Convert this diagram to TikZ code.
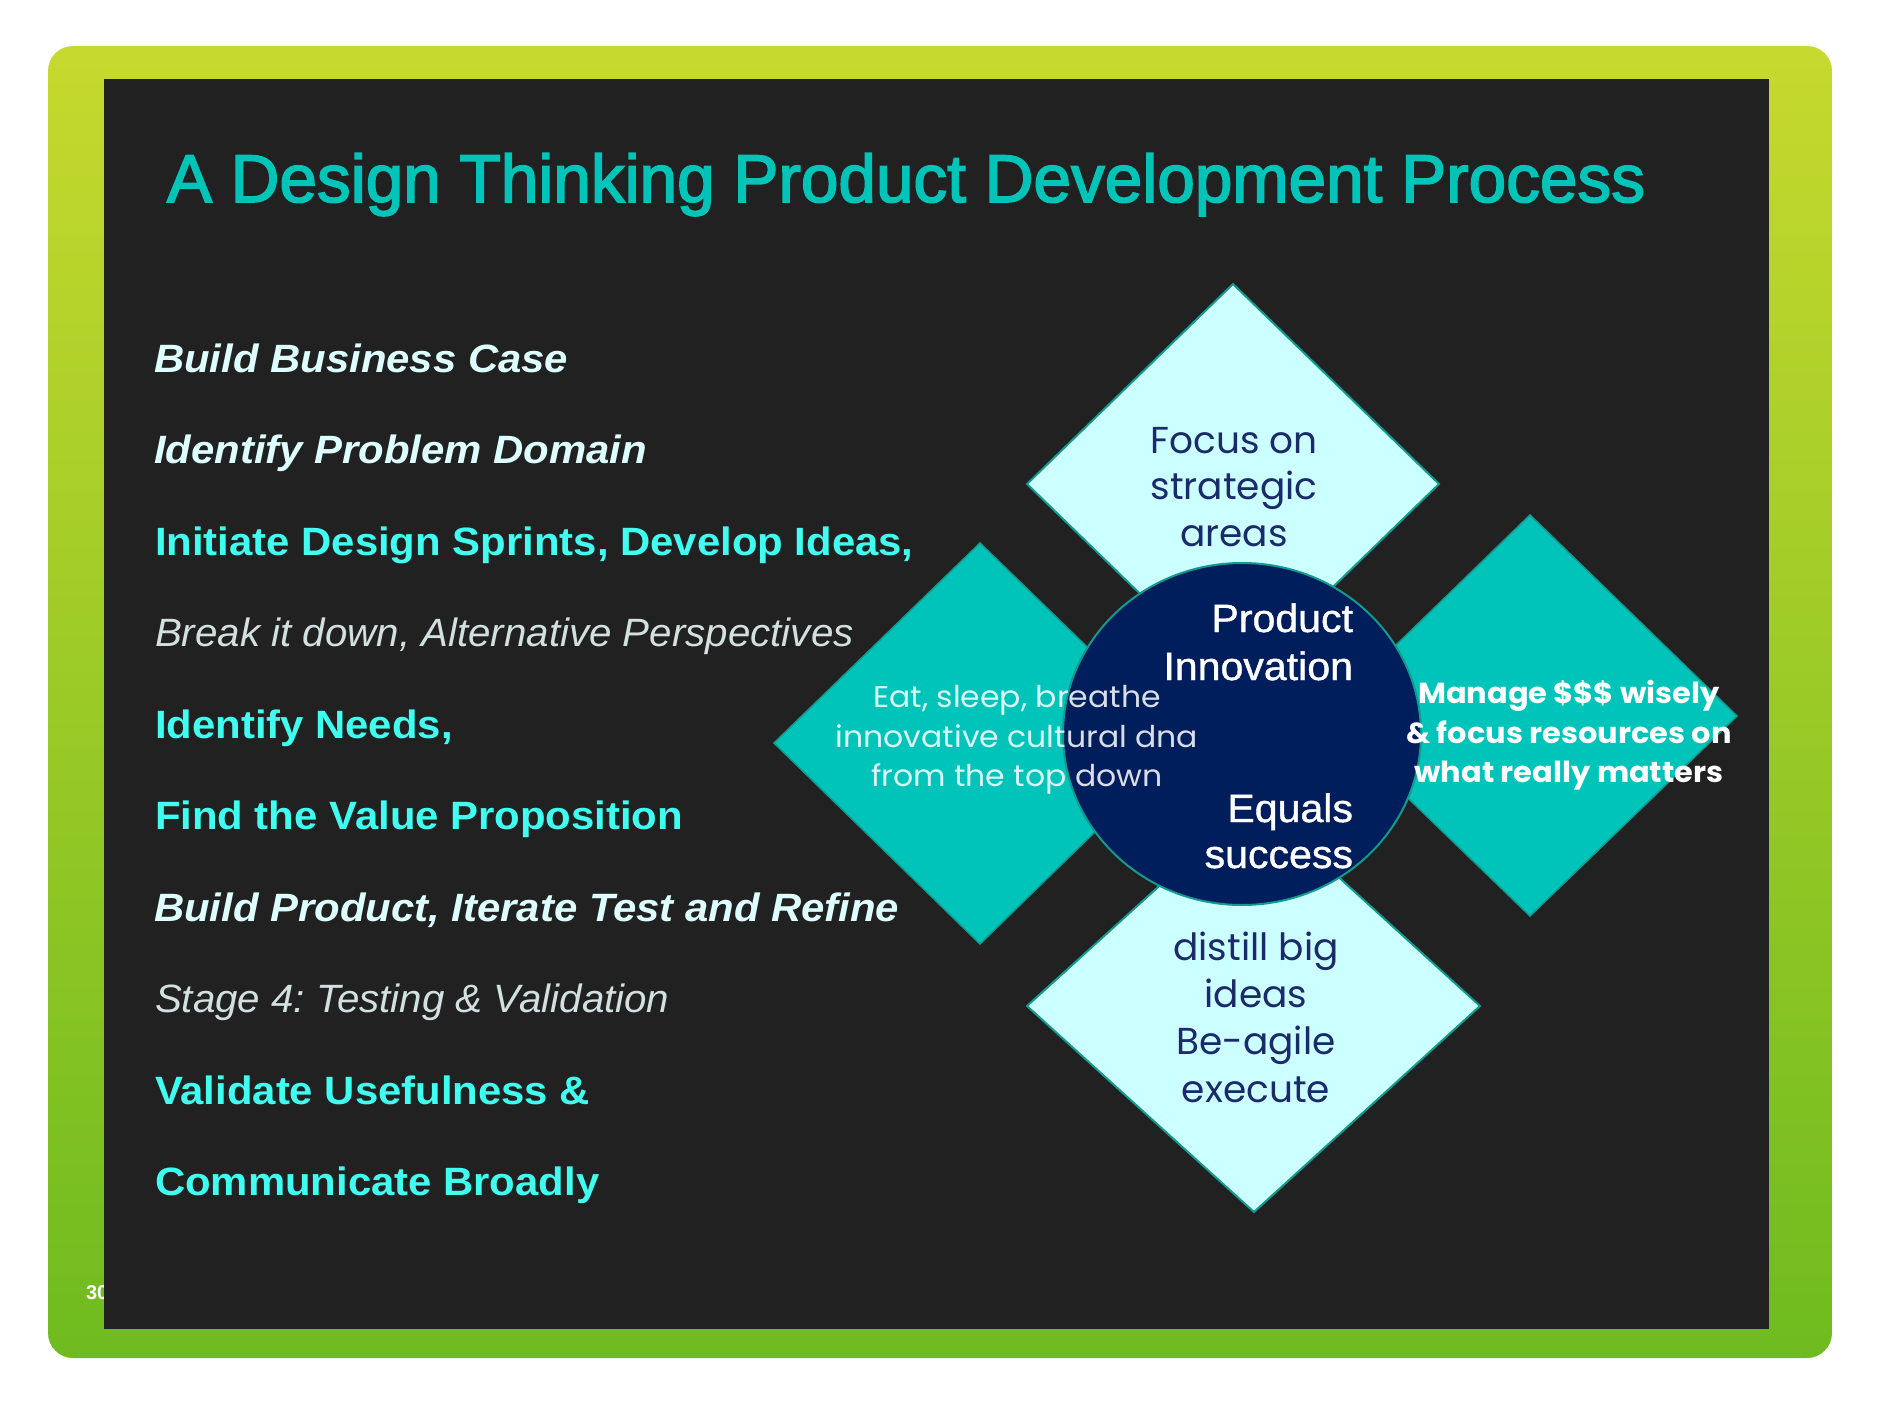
\documentclass[tikz,border=0pt]{standalone}
\usepackage{fontspec}
\setmainfont{Liberation Sans}
\newfontfamily\titlefont[FakeBold=2.4]{Liberation Sans}
\newfontfamily\listfont[FakeStretch=1.06]{Liberation Sans}
\newfontfamily\lightfont[FakeStretch=1.02]{Liberation Sans}
\newfontfamily\ctrfont[FakeStretch=1.04,FakeBold=1]{Liberation Sans}
\newfontfamily\geofont{Poppins}
\newfontfamily\geowide[FakeStretch=1.05]{Poppins}
\definecolor{gtop}{HTML}{C6D92E}
\definecolor{gbot}{HTML}{6FBB1F}
\definecolor{slide}{HTML}{212121}
\definecolor{titlecol}{HTML}{00C4B8}
\definecolor{cyantext}{HTML}{40FFF0}
\definecolor{paletext}{HTML}{DDFFFF}
\definecolor{greytext}{HTML}{D2E0E0}
\definecolor{lightdia}{HTML}{CCFFFF}
\definecolor{tealdia}{HTML}{00C4BA}
\definecolor{edgecol}{HTML}{139A8E}
\definecolor{navy}{HTML}{001E5C}
\definecolor{navytext}{HTML}{1B2B6A}
\tikzset{
  txt/.style={inner sep=0pt, outer sep=0pt},
  lstbi/.style={txt, anchor=base west, text=paletext, font=\frenchspacing\listfont\bfseries\itshape\fontsize{39.5}{44}\selectfont},
  lstb/.style={txt, anchor=base west, text=cyantext, font=\frenchspacing\listfont\bfseries\fontsize{39.5}{44}\selectfont},
  lsti/.style={txt, anchor=base west, text=greytext, font=\frenchspacing\lightfont\itshape\fontsize{39.5}{44}\selectfont},
  dianavy/.style={txt, anchor=base, text=navytext, font=\geofont\fontsize{37.5}{46}\selectfont},
  diawhite/.style={txt, anchor=base, text=white, text opacity=0.85, font=\geowide\fontsize{30}{40}\selectfont},
  diabold/.style={txt, anchor=base, text=white, font=\geowide\bfseries\fontsize{29}{40}\selectfont},
  ctr/.style={txt, anchor=base east, text=white, font=\ctrfont\fontsize{39.5}{46}\selectfont},
  lightd/.style={fill=lightdia, draw=edgecol, line width=2pt, line join=miter},
  teald/.style={fill=tealdia, draw=edgecol, line width=1.5pt, line join=miter},
}
\begin{document}
\begin{tikzpicture}[x=1pt, y=-1pt]
\useasboundingbox (0,0) rectangle (1880,1410);
\fill[white] (0,0) rectangle (1880,1410);
% green frame
\shade[top color=gtop, bottom color=gbot, rounded corners=25pt] (48,46) rectangle (1832,1358);
\node[txt, anchor=base west, text=white, font=\bfseries\fontsize{20}{24}\selectfont] (pagenum) at (86,1299) {30};
% slide
\fill[slide] (104,79) rectangle (1769,1329);
% title
\node[txt, anchor=base west, text=titlecol, font=\titlefont\fontsize{67.5}{80}\selectfont] (title) at (167,202) {A Design Thinking Product Development Process};
% list
\node[lstbi] (l1) at (154,372) {Build Business Case};
\node[lstbi] (l2) at (154,463.5) {Identify Problem Domain};
\node[lstb]  (l3) at (155,555) {Initiate Design Sprints, Develop Ideas,};
\node[lsti]  (l4) at (155,646.5) {Break it down, Alternative Perspectives};
\node[lstb]  (l5) at (155,738) {Identify Needs,};
\node[lstb]  (l6) at (155,829.5) {Find the Value Proposition};
\node[lstbi] (l7) at (154,921) {Build Product, Iterate Test and Refine};
\node[lsti]  (l8) at (155,1012.5) {Stage 4: Testing \& Validation};
\node[lstb]  (l9) at (155,1104) {Validate Usefulness \&};
\node[lstb]  (l10) at (155,1195.5) {Communicate Broadly};
% diamonds
\draw[lightd] (1233,284) -- (1439,484) -- (1233,684) -- (1027,484) -- cycle;
\draw[teald] (980,543) -- (1186,743) -- (980,944) -- (774,743) -- cycle;
\draw[teald] (1530,515) -- (1737,716) -- (1530,916) -- (1323,716) -- cycle;
\draw[lightd] (1254,800) -- (1480,1006) -- (1254,1212) -- (1027,1006) -- cycle;
% centre circle
\draw[fill=navy, draw=edgecol, line width=2pt] (1242,734) ellipse [x radius=179, y radius=171];
% top diamond text
\node[dianavy] (t1) at (1234,453) {Focus on};
\node[dianavy] (t2) at (1234,499.5) {strategic};
\node[dianavy] (t3) at (1234,546) {areas};
% bottom diamond text
\node[dianavy] (b1) at (1256,960) {distill big};
\node[dianavy] (b2) at (1256,1007) {ideas};
\node[dianavy] (b3) at (1256,1054.5) {Be-agile};
\node[dianavy] (b4) at (1256,1102) {execute};
% left diamond text
\node[diawhite] (e1) at (1017,707) {Eat, sleep, breathe};
\node[diawhite] (e2) at (1017,747) {innovative cultural dna};
\node[diawhite] (e3) at (1017,786) {from the top down};
% right diamond text
\node[diabold] (m1) at (1569,703) {Manage \$\$\$ wisely};
\node[diabold] (m2) at (1569,743) {\& focus resources on};
\node[diabold] (m3) at (1569,782) {what really matters};
% centre text
\node[ctr] (c1) at (1353,632) {Product};
\node[ctr] (c2) at (1353,680) {Innovation};
\node[ctr] (c3) at (1353,822) {Equals};
\node[ctr] (c4) at (1353,868) {success};
\end{tikzpicture}
\end{document}
